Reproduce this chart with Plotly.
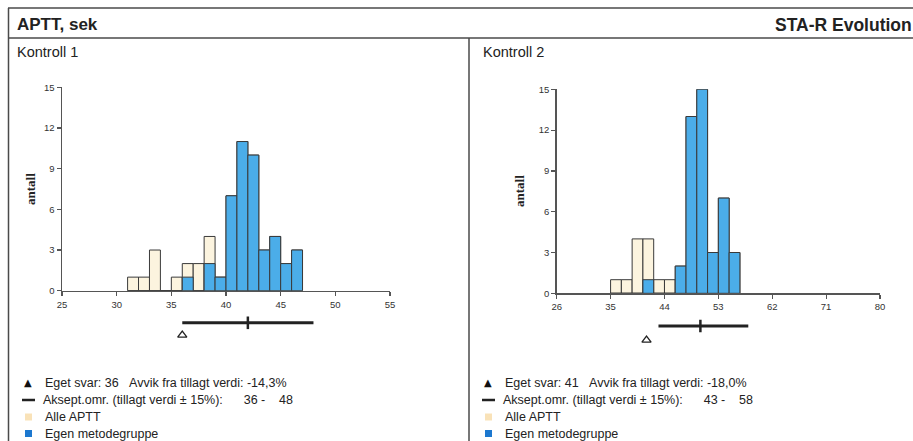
import plotly.graph_objects as go

# ---------------- data ----------------
left_bin_start = [31, 32, 33, 34, 35, 36, 37, 38, 39, 40, 41, 42, 43, 44, 45, 46]
left_alle = [1, 1, 3, 0, 1, 2, 2, 4, 1, 7, 11, 10, 3, 4, 2, 3]
left_egen = [0, 0, 0, 0, 0, 1, 0, 2, 1, 7, 11, 10, 3, 4, 2, 3]
left_bin_width = 1.0
left_xticks = [25, 30, 35, 40, 45, 50, 55]
left_accept = [36, 48]
left_target = [42]
left_own = [36]

right_bin_start = [35.0, 36.8, 38.6, 40.4, 42.2, 44.0, 45.8, 47.6, 49.4, 51.2, 53.0, 54.8]
right_alle = [1, 1, 4, 4, 1, 1, 2, 13, 15, 3, 7, 3]
right_egen = [0, 0, 0, 1, 0, 0, 2, 13, 15, 3, 7, 3]
right_bin_width = 1.8
right_xticks = [26, 35, 44, 53, 62, 71, 80]
right_accept = [43, 58]
right_target = [50]
right_own = [41]

y_ticks = [0, 3, 6, 9, 12, 15]

legend_left = [
    "Eget svar: 36\u00a0\u00a0\u00a0Avvik fra tillagt verdi: -14,3%",
    "Aksept.omr. (tillagt verdi ± 15%):\u00a0\u00a0\u00a0\u00a0\u00a0\u00a036 -\u00a0\u00a0\u00a0\u00a048",
    "Alle APTT",
    "Egen metodegruppe",
]
legend_right = [
    "Eget svar: 41\u00a0\u00a0\u00a0Avvik fra tillagt verdi: -18,0%",
    "Aksept.omr. (tillagt verdi ± 15%):\u00a0\u00a0\u00a0\u00a0\u00a0\u00a043 -\u00a0\u00a0\u00a0\u00a058",
    "Alle APTT",
    "Egen metodegruppe",
]

# ---------------- styling ----------------
W, H = 913, 441
def fx(px):
    return px / W
def fy(py):
    return 1 - py / H

CREAM = "#FCF4DF"
BLUE = "#4BADE9"
OUTLINE = "#3a3a3a"
AXC = "#555555"
TXT = "#222222"
FONT = "Liberation Sans"

fig = go.Figure()

def add_hist(xa, ya, starts, alle, egen, w):
    fig.add_trace(go.Bar(x=starts, y=alle, width=w, offset=0, xaxis=xa, yaxis=ya,
                         marker=dict(color=CREAM, line=dict(color=OUTLINE, width=1)),
                         showlegend=False, hoverinfo="skip"))
    fig.add_trace(go.Bar(x=starts, y=egen, width=w, offset=0, xaxis=xa, yaxis=ya,
                         marker=dict(color=BLUE, line=dict(color=OUTLINE, width=1)),
                         showlegend=False, hoverinfo="skip"))

add_hist("x", "y", left_bin_start, left_alle, left_egen, left_bin_width)
add_hist("x2", "y2", right_bin_start, right_alle, right_egen, right_bin_width)

def add_accept(xa, ya, accept, target, own, yline, ytri):
    fig.add_trace(go.Scatter(x=accept, y=[yline] * len(accept), xaxis=xa, yaxis=ya,
                             mode="lines", line=dict(color="#222222", width=3),
                             showlegend=False, hoverinfo="skip"))
    fig.add_trace(go.Scatter(x=target, y=[yline], xaxis=xa, yaxis=ya, mode="markers",
                             marker=dict(symbol="line-ns", size=9, color="#222222",
                                         line=dict(color="#222222", width=2.5)),
                             showlegend=False, hoverinfo="skip"))
    fig.add_trace(go.Scatter(x=own, y=[ytri], xaxis=xa, yaxis=ya, mode="markers",
                             marker=dict(symbol="triangle-up-open", size=8, color="#222222",
                                         line=dict(color="#222222", width=1.3)),
                             showlegend=False, hoverinfo="skip"))

add_accept("x", "y3", left_accept, left_target, left_own, 0.74, 0.33)
add_accept("x2", "y4", right_accept, right_target, right_own, 0.75, 0.31)

xcommon = dict(showline=True, linecolor=AXC, linewidth=1.5, ticks="outside", ticklen=4,
               tickcolor=AXC, tickwidth=1.2, showgrid=False, zeroline=False, automargin=False,
               tickfont=dict(family=FONT, size=9.5, color="#333"), fixedrange=True)
ycommon = dict(showline=True, linecolor=AXC, linewidth=1.5, ticks="outside", ticklen=4,
               tickcolor=AXC, tickwidth=1.2, showgrid=False, zeroline=False, range=[0, 15],
               automargin=False, tickvals=y_ticks,
               tickfont=dict(family=FONT, size=9.5, color="#333"), fixedrange=True)

fig.update_layout(
    width=W, height=H, margin=dict(l=0, r=0, t=0, b=0, pad=0, autoexpand=False),
    paper_bgcolor="white", plot_bgcolor="rgba(0,0,0,0)",
    barmode="overlay", bargap=0,
    xaxis=dict(domain=[fx(62), fx(390)], range=[25, 55], tickvals=left_xticks,
               anchor="y", **xcommon),
    yaxis=dict(domain=[fy(290.7), fy(87.3)], anchor="x", **ycommon),
    xaxis2=dict(domain=[fx(556.7), fx(880)], range=[26, 80], tickvals=right_xticks,
                anchor="y2", **xcommon),
    yaxis2=dict(domain=[fy(293.3), fy(89.3)], anchor="x2", **ycommon),
    yaxis3=dict(domain=[fy(345), fy(315)], range=[0, 1], anchor="x", visible=False,
                fixedrange=True, automargin=False),
    yaxis4=dict(domain=[fy(350), fy(318)], range=[0, 1], anchor="x2", visible=False,
                fixedrange=True, automargin=False),
)

shapes = []
BORDER = "#4a4a4a"
# frame
shapes.append(dict(type="line", xref="paper", yref="paper", x0=fx(8), x1=1,
                   y0=fy(8), y1=fy(8), line=dict(color="#777", width=2)))
shapes.append(dict(type="line", xref="paper", yref="paper", x0=fx(8), x1=1,
                   y0=fy(38), y1=fy(38), line=dict(color=BORDER, width=1.5)))
shapes.append(dict(type="line", xref="paper", yref="paper", x0=fx(8.5), x1=fx(8.5),
                   y0=fy(8), y1=0, line=dict(color=BORDER, width=1.5)))
shapes.append(dict(type="line", xref="paper", yref="paper", x0=fx(469), x1=fx(469),
                   y0=fy(38), y1=0, line=dict(color=BORDER, width=1.5)))

annotations = []
annotations.append(dict(text="<b>APTT, sek</b>", x=fx(15), y=fy(25), xref="paper", yref="paper",
                        xanchor="left", yanchor="middle", showarrow=False,
                        font=dict(family=FONT, size=17, color=TXT)))
annotations.append(dict(text="<b>STA-R Evolution</b>", x=fx(773), y=fy(25), xref="paper",
                        yref="paper", xanchor="left", yanchor="middle", showarrow=False,
                        font=dict(family=FONT, size=17.5, color=TXT)))
for txt, px in [("Kontroll 1", 15), ("Kontroll 2", 481)]:
    annotations.append(dict(text=txt, x=fx(px), y=fy(52), xref="paper", yref="paper",
                            xanchor="left", yanchor="middle", showarrow=False,
                            font=dict(family=FONT, size=14.5, color=TXT)))
for px, py in [(30, 189), (519, 191)]:
    annotations.append(dict(text="<b>antall</b>", x=fx(px), y=fy(py), xref="paper",
                            yref="paper", textangle=-90, showarrow=False,
                            xanchor="center", yanchor="middle",
                            font=dict(family="Liberation Serif", size=13, color=TXT)))

rows = [382.5, 400, 417, 433.5]
def add_legend(items, xo):
    annotations.append(dict(text="▲", x=fx(xo + 28), y=fy(rows[0]), xref="paper", yref="paper",
                            showarrow=False, xanchor="center", yanchor="middle",
                            font=dict(family="DejaVu Sans", size=10, color="#111")))
    shapes.append(dict(type="line", xref="paper", yref="paper", x0=fx(xo + 22), x1=fx(xo + 35),
                       y0=fy(rows[1]), y1=fy(rows[1]), line=dict(color="#222", width=2.5)))
    shapes.append(dict(type="rect", xref="paper", yref="paper", x0=fx(xo + 25), x1=fx(xo + 32),
                       y0=fy(rows[2] + 3.5), y1=fy(rows[2] - 3.5), fillcolor="#F9E2B8",
                       line=dict(width=0)))
    shapes.append(dict(type="rect", xref="paper", yref="paper", x0=fx(xo + 25), x1=fx(xo + 32),
                       y0=fy(rows[3] + 3.5), y1=fy(rows[3] - 3.5), fillcolor="#1C78CF",
                       line=dict(width=0)))
    offs = [43, 41, 43, 43]
    for txt, ry, o in zip(items, rows, offs):
        annotations.append(dict(text=txt, x=fx(xo + o), y=fy(ry), xref="paper", yref="paper",
                                showarrow=False, xanchor="left", yanchor="middle",
                                font=dict(family=FONT, size=12.5, color=TXT)))

add_legend(legend_left, 0)
add_legend(legend_right, 460)

fig.update_layout(shapes=shapes, annotations=annotations)
fig.write_html(
    "out.html",
    config={"displayModeBar": False, "staticPlot": True},
    post_script=(
        "document.documentElement.style.margin='0';"
        "document.body.style.margin='0';document.body.style.overflow='hidden';"
        "var d=document.getElementById('{plot_id}');"
        "d.style.position='fixed';d.style.left='0px';d.style.top='0px';"
    ),
)
